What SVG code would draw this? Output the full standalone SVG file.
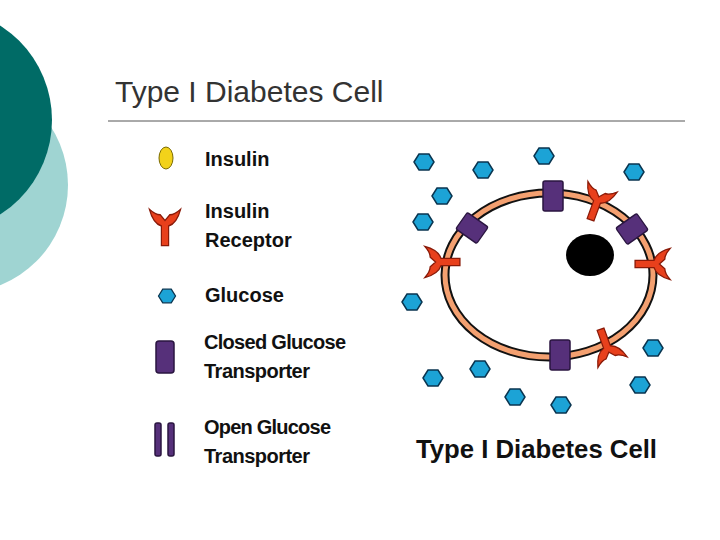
<svg xmlns="http://www.w3.org/2000/svg" width="720" height="540" viewBox="0 0 720 540">
<style>
.lg{font-family:"Liberation Sans",Arial,sans-serif;font-weight:bold;font-size:20px;fill:#111}
.g{fill:#1ca3d6;stroke:#0a3550;stroke-width:1.5}
.tr{fill:#56307a;stroke:#2a1540;stroke-width:1.5}
.rc{fill:#e8401c;stroke:#8a1a08;stroke-width:1}
</style>
<defs>
<polygon id="hex" class="g" points="-10,0 -5,-8 5,-8 10,0 5,8 -5,8"/>
<path id="rec" class="rc" d="M-3,14 L-3,0 Q-10,-2 -13,-12 Q-8,-8 -4,-8 L0,-4 L4,-8 Q8,-8 13,-12 Q10,-2 3,0 L3,14 Z"/>
<rect id="tp" class="tr" x="-10" y="-15" width="20" height="30" rx="2"/>
</defs>
<rect width="720" height="540" fill="#fff"/>
<circle cx="-40" cy="185" r="108" fill="#9fd4d2"/>
<circle cx="-60" cy="120" r="112" fill="#006b66"/>
<text x="115" y="102" font-family="Liberation Sans,Arial,sans-serif" font-size="30" fill="#333">Type I Diabetes Cell</text>
<line x1="108" y1="121" x2="685" y2="121" stroke="#555" stroke-width="1"/>
<g id="legend">
<ellipse cx="166" cy="158" rx="7" ry="11" fill="#f2d21a" stroke="#7a6a00"/>
<use href="#rec" transform="translate(165,226) scale(1.2,1.4)"/>
<use href="#hex" transform="translate(167,296) scale(0.85)"/>
<rect class="tr" x="156" y="341" width="18" height="32" rx="3"/>
<rect class="tr" x="155" y="423" width="6" height="33" rx="2"/>
<rect class="tr" x="168" y="423" width="6" height="33" rx="2"/>
<text class="lg" x="205" y="166">Insulin</text>
<text class="lg" x="205" y="218">Insulin</text>
<text class="lg" x="205" y="247">Receptor</text>
<text class="lg" x="205" y="302">Glucose</text>
<text class="lg" x="204" y="349" textLength="142">Closed Glucose</text>
<text class="lg" x="204" y="378" textLength="106">Transporter</text>
<text class="lg" x="204" y="434" textLength="127">Open Glucose</text>
<text class="lg" x="204" y="463" textLength="106">Transporter</text>
</g>
<g id="cell">
<ellipse cx="549" cy="275" rx="104" ry="82" fill="#fff" stroke="#111" stroke-width="9"/>
<ellipse cx="549" cy="275" rx="104" ry="82" fill="none" stroke="#f4a070" stroke-width="5"/>
<ellipse cx="590" cy="255" rx="24" ry="21" fill="#000"/>
<use href="#tp" transform="translate(553,196)"/>
<use href="#tp" transform="translate(472,228) rotate(-55) scale(1,0.85)"/>
<use href="#tp" transform="translate(632,229) rotate(55) scale(1,0.85)"/>
<use href="#tp" transform="translate(560,355)"/>
<use href="#rec" transform="translate(597,202) rotate(20) scale(1.2,1.35)"/>
<use href="#rec" transform="translate(441,262) rotate(-90) scale(1.2,1.35)"/>
<use href="#rec" transform="translate(654,264) rotate(90) scale(1.2,1.35)"/>
<use href="#rec" transform="translate(607,347) rotate(160) scale(1.2,1.35)"/>
</g>
<g id="glucose">
<use href="#hex" x="424" y="162"/><use href="#hex" x="483" y="170"/><use href="#hex" x="544" y="156"/>
<use href="#hex" x="634" y="172"/><use href="#hex" x="442" y="196"/><use href="#hex" x="423" y="222"/>
<use href="#hex" x="412" y="302"/><use href="#hex" x="653" y="348"/><use href="#hex" x="433" y="378"/>
<use href="#hex" x="480" y="369"/><use href="#hex" x="640" y="385"/><use href="#hex" x="515" y="397"/>
<use href="#hex" x="561" y="405"/>
</g>
<text x="416" y="458" font-family="Liberation Sans,Arial,sans-serif" font-weight="bold" font-size="25" fill="#111" textLength="241" lengthAdjust="spacingAndGlyphs">Type I Diabetes Cell</text>
</svg>
